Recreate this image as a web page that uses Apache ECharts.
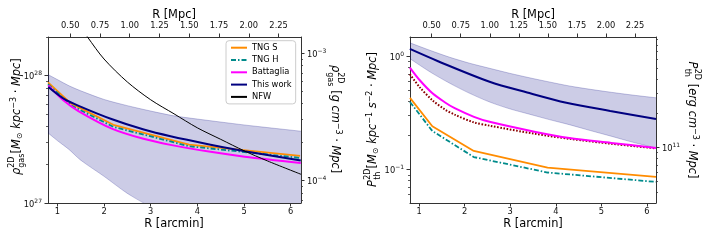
<!DOCTYPE html>
<html><head><meta charset="utf-8">
<script src="https://cdn.jsdelivr.net/npm/echarts@6/dist/echarts.min.js"></script>
<style>html,body{margin:0;padding:0;background:#fff}#c{width:705px;height:244px}</style>
</head><body><div id="c"></div>
<script>
// ---------------- data ----------------
const MPC_PER_ARCMIN = 0.392;
const arcTicks = [1, 2, 3, 4, 5, 6];
const mpcTicks = [0.5, 0.75, 1.0, 1.25, 1.5, 1.75, 2.0, 2.25];

// TNG radial grid [arcmin]
const tngR = [0.8, 1.29, 2.2, 3.82, 6.2];

// Left panel: rho_gas^2D [Msun kpc^-3 Mpc]
const rhoTngS = [8.85e27, 6.05e27, 4.11e27, 2.87e27, 2.34e27];
const rhoTngH = [8.55e27, 5.85e27, 3.96e27, 2.79e27, 2.26e27];
const rhoBattR = [0.807, 1.129, 1.451, 2.180, 2.845, 3.425, 4.283, 5.013, 6.215];
const rhoBatt = [8.39e27, 6.40e27, 5.27e27, 3.82e27, 3.19e27, 2.86e27, 2.52e27, 2.31e27, 2.06e27];
const rhoWorkR = [0.807, 1.135, 1.457, 2.174, 2.852, 3.425, 4.283, 5.013, 6.215];
const rhoWork = [8.14e27, 6.60e27, 5.79e27, 4.54e27, 3.77e27, 3.34e27, 2.87e27, 2.55e27, 2.16e27];
const rhoBandR = [0.8, 1.0, 1.25, 1.5, 2.0, 2.5, 3.0, 3.5, 4.0, 4.5, 5.0, 5.5, 6.22];
const rhoBandHigh = [1.019e28, 9.31e27, 8.32e27, 7.60e27, 6.50e27, 5.81e27, 5.27e27, 4.83e27, 4.56e27, 4.32e27, 4.10e27, 3.91e27, 3.66e27];
const rhoBandLow = [3.55e27, 3.09e27, 2.63e27, 2.17e27, 1.62e27, 1.19e27, 9.33e26, 7.59e26, 6.31e26, 5.37e26, 4.68e26, 4.17e26, 3.55e26];
const nfwR = [1.4, 1.65, 2.0, 2.5, 3.0, 3.5, 4.0, 4.5, 5.0, 5.5, 6.22];
const rhoNFW = [2.72e28, 2.0e28, 1.35e28, 8.91e27, 6.46e27, 5.01e27, 3.89e27, 3.16e27, 2.57e27, 2.14e27, 1.68e27];

// Right panel: P_th^2D [Msun kpc^-1 s^-2 Mpc]
const pTngS = [0.429, 0.241, 0.146, 0.104, 0.0861];
const pTngH = [0.395, 0.219, 0.129, 0.0942, 0.0778];
const pBattR = [0.797, 1.015, 1.293, 1.562, 1.781, 2.204, 2.547, 3.532, 4.297, 5.216, 6.2];
const pBatt = [0.795, 0.614, 0.471, 0.393, 0.348, 0.292, 0.264, 0.216, 0.190, 0.172, 0.155];
const pDotted = [0.694, 0.532, 0.409, 0.340, 0.305, 0.261, 0.244, 0.207, 0.187, 0.169, 0.154];
const pWorkR = [0.797, 1.416, 2.547, 3.372, 4.232, 5.195, 6.2];
const pWork = [1.16, 0.904, 0.596, 0.479, 0.389, 0.329, 0.280];
const pBandR = [0.797, 1.234, 1.672, 2.109, 2.547, 2.985, 3.422, 3.860, 4.297, 4.757, 5.216, 5.676, 6.2];
const pBandHigh = [1.315, 1.13, 0.980, 0.868, 0.783, 0.708, 0.646, 0.593, 0.547, 0.511, 0.481, 0.455, 0.430];
const pBandLow = [0.954, 0.730, 0.578, 0.471, 0.395, 0.344, 0.308, 0.276, 0.249, 0.221, 0.197, 0.175, 0.155];

// ---------------- axis extents (log10 space) ----------------
const L = Math.log10;
const X0 = [0.8, 6.22], X1 = [0.8, 6.2];
const Y0 = [27, 28.303];            // left panel, Msun kpc^-3 Mpc
const Y0R_SHIFT = -31.177;          // -> g cm^-3 Mpc
const Y1 = [-1.295, 0.170];         // right panel
const Y1R_SHIFT = 11.803;           // -> erg cm^-3 Mpc

function minorTicks(min, max) {
  const out = [];
  for (let d = Math.floor(min) - 1; d <= Math.ceil(max); d++)
    for (let k = 2; k <= 9; k++) { const v = d + L(k); if (v >= min && v <= max) out.push(v); }
  return out;
}
function P(xs, vs) { return xs.map((x, i) => [x, L(vs[i])]); }

const AX = '#333', TXT = '#111', FF = 'DejaVu Sans';
const RICH = {
  b: {fontSize: 8.3, fontFamily: FF, color: TXT, lineHeight: 10, padding: [3, 0, 0, 0]},
  s: {fontSize: 6, fontFamily: FF, color: TXT, lineHeight: 6, verticalAlign: 'top'}
};
function powLabel(v) { const n = Math.round(v); return '{b|10}{s|' + (n < 0 ? '\u2212' : '') + Math.abs(n) + '}'; }

function yMajor(grid, pos, min, max, major) {
  return {type: 'value', gridIndex: grid, position: pos, min, max,
    axisLine: {show: true, onZero: false, lineStyle: {color: AX, width: 1}},
    splitLine: {show: false},
    axisTick: {show: true, length: 3.5, customValues: major, lineStyle: {color: AX, width: 1}},
    axisLabel: {show: true, customValues: major, formatter: powLabel, rich: RICH, margin: 6}};
}
function yMinor(grid, pos, min, max) {
  return {type: 'value', gridIndex: grid, position: pos, min, max,
    axisLine: {show: false}, splitLine: {show: false},
    axisTick: {show: true, length: 2, customValues: minorTicks(min, max), lineStyle: {color: AX, width: 0.8}},
    axisLabel: {show: false}};
}
function xBottom(grid, ext) {
  return {type: 'value', gridIndex: grid, position: 'bottom', min: ext[0], max: ext[1],
    axisLine: {show: true, onZero: false, lineStyle: {color: AX, width: 1}},
    splitLine: {show: false},
    axisTick: {show: true, length: 3.5, customValues: arcTicks, lineStyle: {color: AX, width: 1}},
    axisLabel: {customValues: arcTicks, formatter: v => String(v), fontSize: 8.3, fontFamily: FF, color: TXT, margin: 4, lineHeight: 10}};
}
function xTop(grid, ext) {
  return {type: 'value', gridIndex: grid, position: 'top', min: ext[0] * MPC_PER_ARCMIN, max: ext[1] * MPC_PER_ARCMIN,
    axisLine: {show: true, onZero: false, lineStyle: {color: AX, width: 1}},
    splitLine: {show: false},
    axisTick: {show: true, length: 3.5, customValues: mpcTicks, lineStyle: {color: AX, width: 1}},
    axisLabel: {customValues: mpcTicks, formatter: v => v.toFixed(2), fontSize: 8.3, fontFamily: FF, color: TXT, margin: 6, lineHeight: 10}};
}

const BANDFILL = 'rgba(0,0,128,0.2)', BANDEDGE = 'rgba(0,0,128,0.22)';
const base = {type: 'line', symbol: 'none', showSymbol: false, silent: true, clip: true};
const C = {tngS: '#FF8C00', tngH: '#008B8B', batt: '#FF00FF', work: '#000080', nfw: '#000000', dot: '#8B0000'};

// confidence band: filled polygon + upper/lower edges, placed by the axes
function band(xi, yi, xs, lo, hi) {
  const up = P(xs, hi), dn = P(xs, lo);
  return {type: 'custom', xAxisIndex: xi, yAxisIndex: yi, silent: true, clip: true, z: 1,
    data: up,
    renderItem: function (params, api) {
      if (params.dataIndex !== 0) return null;
      const u = up.map(p => api.coord(p)), d = dn.map(p => api.coord(p));
      const es = {fill: null, stroke: BANDEDGE, lineWidth: 1};
      return {type: 'group', children: [
        {type: 'polygon', shape: {points: u.concat(d.slice().reverse())}, style: {fill: BANDFILL}},
        {type: 'polyline', shape: {points: u, smooth: 0.3}, style: es},
        {type: 'polyline', shape: {points: d, smooth: 0.3}, style: es}
      ]};
    }};
}
function line(name, xi, yi, data, color, width, extra) {
  return Object.assign({}, base, {name, xAxisIndex: xi, yAxisIndex: yi, data, lineStyle: Object.assign({color, width}, extra || {}), itemStyle: {color}, z: 3});
}
const dashDot = {type: [5, 2, 1.5, 2]};
const SM = {smooth: 0.3};

const series = [
  band(0, 0, rhoBandR, rhoBandLow, rhoBandHigh),
  line('TNG S', 0, 0, P(tngR, rhoTngS), C.tngS, 1.8),
  line('TNG H', 0, 0, P(tngR, rhoTngH), C.tngH, 1.8, dashDot),
  Object.assign(line('Battaglia', 0, 0, P(rhoBattR, rhoBatt), C.batt, 2), SM),
  Object.assign(line('This work', 0, 0, P(rhoWorkR, rhoWork), C.work, 2), SM),
  Object.assign(line('NFW', 0, 0, P(nfwR, rhoNFW), C.nfw, 1), SM),
  band(2, 4, pBandR, pBandLow, pBandHigh),
  line('TNG S', 2, 4, P(tngR, pTngS), C.tngS, 1.8),
  line('TNG H', 2, 4, P(tngR, pTngH), C.tngH, 1.8, dashDot),
  Object.assign(line('dotted', 2, 4, P(pBattR, pDotted), C.dot, 2, {type: [1.6, 1.6]}), SM),
  Object.assign(line('Battaglia', 2, 4, P(pBattR, pBatt), C.batt, 2), SM),
  Object.assign(line('This work', 2, 4, P(pWorkR, pWork), C.work, 2), SM)
];

// ---------------- titles ----------------
const TR = {
  n: {fontFamily: FF, fontSize: 11.4, lineHeight: 14, padding: [3, 0, 3, 0], fill: '#000'},
  i: {fontFamily: FF, fontStyle: 'italic', fontSize: 11.4, lineHeight: 14, padding: [3, 0, 3, 0], fill: '#000'},
  sp: {fontFamily: FF, fontSize: 8, lineHeight: 8, verticalAlign: 'top', fill: '#000'},
  sb: {fontFamily: FF, fontSize: 8, lineHeight: 10, verticalAlign: 'bottom', fill: '#000'}
};
function t(x, y, text, font, extra) {
  return {type: 'text', x, y, silent: true, style: Object.assign({text, font, fill: '#000', align: 'left', verticalAlign: 'middle', textAlign: 'left', textVerticalAlign: 'middle'}, extra || {})};
}
function yTitle(cx, cy, rot, start, sym, symW, scW, rest) {
  return {type: 'group', x: cx, y: cy, rotation: rot, silent: true, children: [
    t(start, 0, sym, 'italic 11.4px "DejaVu Sans"'),
    t(start + symW, -5.5, '2D', '8px "DejaVu Sans"'),
    t(start + symW, 4.5, sym === 'ρ' ? 'gas' : 'th', '8px "DejaVu Sans"'),
    t(start + symW + scW, 0, rest, '11.4px "DejaVu Sans"', {rich: TR})
  ]};
}
function center(x, y, text) {
  return {type: 'text', x, y, silent: true, style: {text, font: '11.4px "DejaVu Sans"', fill: '#000', align: 'center', verticalAlign: 'middle', textAlign: 'center', textVerticalAlign: 'middle'}};
}

const graphic = [
  center(174, 224, 'R [arcmin]'),
  center(533, 224, 'R [arcmin]'),
  center(174, 15, 'R [Mpc]'),
  center(533, 15, 'R [Mpc]'),
  yTitle(17, 118, Math.PI / 2, -57, 'ρ', 7.2, 14.4, '{n|[}{i|M}{sb|\u2299}{i| kpc}{sp|\u22123}{n| \u00b7 }{i|Mpc}{n|]}'),
  yTitle(335, 119, -Math.PI / 2, -54, 'ρ', 7.2, 14.4, '{n| [}{i|g cm}{sp|\u22123}{n| \u00b7 }{i|Mpc}{n|]}'),
  yTitle(373, 120, Math.PI / 2, -67, 'P', 7.2, 11.4, '{n|[}{i|M}{sb|\u2299}{i| kpc}{sp|\u22121}{i| s}{sp|\u22122}{n| \u00b7 }{i|Mpc}{n|]}'),
  yTitle(692, 119.5, -Math.PI / 2, -58, 'P', 7.2, 11.4, '{n| [}{i|erg cm}{sp|\u22123}{n| \u00b7 }{i|Mpc}{n|]}')
];

const option = {
  animation: false,
  backgroundColor: '#fff',
  textStyle: {fontFamily: FF},
  grid: [
    {left: 48, top: 37, width: 253, height: 166, containLabel: false, outerBoundsMode: 'none'},
    {left: 410, top: 37, width: 246, height: 166, containLabel: false, outerBoundsMode: 'none'}
  ],
  xAxis: [xBottom(0, X0), xTop(0, X0), xBottom(1, X1), xTop(1, X1)],
  yAxis: [
    yMajor(0, 'left', Y0[0], Y0[1], [27, 28]),
    yMinor(0, 'left', Y0[0], Y0[1]),
    yMajor(0, 'right', Y0[0] + Y0R_SHIFT, Y0[1] + Y0R_SHIFT, [-4, -3]),
    yMinor(0, 'right', Y0[0] + Y0R_SHIFT, Y0[1] + Y0R_SHIFT),
    yMajor(1, 'left', Y1[0], Y1[1], [-1, 0]),
    yMinor(1, 'left', Y1[0], Y1[1]),
    yMajor(1, 'right', Y1[0] + Y1R_SHIFT, Y1[1] + Y1R_SHIFT, [11]),
    yMinor(1, 'right', Y1[0] + Y1R_SHIFT, Y1[1] + Y1R_SHIFT)
  ],
  legend: {
    data: ['TNG S', 'TNG H', 'Battaglia', 'This work', 'NFW'],
    orient: 'vertical', left: 226, top: 40.7,
    itemWidth: 16, itemHeight: 10, itemGap: 2.3, itemTextGap: 7,
    padding: [2, 4, 2, 4], selectedMode: false,
    itemStyle: {opacity: 0, borderWidth: 0},
    backgroundColor: 'rgba(255,255,255,0.85)', borderColor: '#cccccc', borderWidth: 1, borderRadius: 3,
    textStyle: {fontSize: 8.3, fontFamily: FF, color: '#000', lineHeight: 10}
  },
  graphic,
  series
};

const chart = echarts.init(document.getElementById('c'), null, {renderer: 'canvas', width: 705, height: 244});
chart.setOption(option);
</script>
</body></html>
